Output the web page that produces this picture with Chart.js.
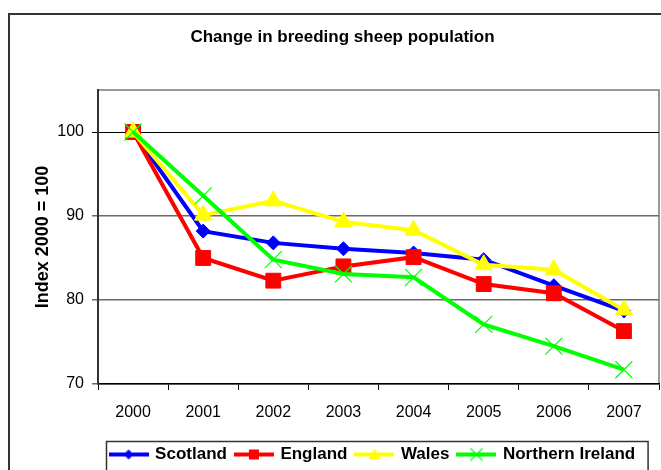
<!DOCTYPE html>
<html><head><meta charset="utf-8">
<script src="https://cdn.jsdelivr.net/npm/chart.js@4/dist/chart.umd.min.js"></script>
<style>html,body{margin:0;padding:0;background:#fff;overflow:hidden}canvas{display:block}</style>
</head><body>
<canvas id="c" width="661" height="470"></canvas>
<script>
const chartTitle = 'Change in breeding sheep population';
const yTitle = 'Index 2000 = 100';
const years = ['2000', '2001', '2002', '2003', '2004', '2005', '2006', '2007'];
const seriesNames = ['Scotland', 'England', 'Wales', 'Northern Ireland'];
const scotland = [100, 88.2, 86.8, 86.1, 85.6, 84.8, 81.7, 78.7];
const england = [100, 85.0, 82.3, 84.0, 85.1, 81.9, 80.8, 76.3];
const wales = [100, 90.1, 91.8, 89.3, 88.3, 84.2, 83.6, 78.8];
const northernIreland = [100, 92.4, 84.8, 83.1, 82.7, 77.1, 74.5, 71.7];
const yTicks = [70, 80, 90, 100];
const yMin = 70, yMax = 105;

const FONT = 'Liberation Sans';
const colors = ['#0000FF', '#FF0000', '#FFFF00', '#00FF00'];
const styles = ['rectRot', 'rect', 'triangle', 'crossRot'];
const radii = [7, 10.5, 10, 12];
const PLOT_RIGHT = 659;

function makeIcon(color, style) {
  const c = document.createElement('canvas');
  c.width = 40; c.height = 16;
  const x = c.getContext('2d');
  x.strokeStyle = color; x.fillStyle = color;
  x.lineWidth = 4;
  x.beginPath(); x.moveTo(0, 8); x.lineTo(40, 8); x.stroke();
  const cx = 20, cy = 8;
  x.beginPath();
  if (style === 'rectRot') {
    x.moveTo(cx, cy - 5); x.lineTo(cx + 5, cy); x.lineTo(cx, cy + 5); x.lineTo(cx - 5, cy); x.closePath(); x.fill();
  } else if (style === 'rect') {
    x.fillRect(cx - 5, cy - 5, 10, 10);
  } else if (style === 'triangle') {
    x.moveTo(cx, cy - 6); x.lineTo(cx + 6, cy + 5); x.lineTo(cx - 6, cy + 5); x.closePath(); x.fill();
  } else {
    x.lineWidth = 1.3;
    x.moveTo(cx - 6, cy - 6); x.lineTo(cx + 6, cy + 6); x.moveTo(cx + 6, cy - 6); x.lineTo(cx - 6, cy + 6); x.stroke();
  }
  return c;
}
const icons = colors.map((c, i) => makeIcon(c, styles[i]));

const values = [scotland, england, wales, northernIreland];
const datasets = values.map((v, i) => ({
  label: seriesNames[i],
  data: v,
  borderColor: colors[i],
  backgroundColor: colors[i],
  borderWidth: 4,
  tension: 0,
  pointStyle: styles[i],
  pointRadius: radii[i],
  pointBackgroundColor: colors[i],
  pointBorderColor: colors[i],
  pointBorderWidth: i === 3 ? 1.2 : 1,
  order: 4 - i
}));

const framePlugin = {
  id: 'frame',
  afterLayout(chart) {
    const ca = chart.chartArea;
    const xs = chart.scales.x;
    ca.right = PLOT_RIGHT;
    ca.width = ca.right - ca.left;
    xs.right = PLOT_RIGHT;
    xs.width = xs.right - xs.left;
    xs.configure();
  },
  beforeDraw(chart) {
    const ctx = chart.ctx;
    ctx.save();
    ctx.fillStyle = '#fff';
    ctx.fillRect(0, 0, chart.width, chart.height);
    ctx.strokeStyle = '#333'; ctx.lineWidth = 2;
    ctx.strokeRect(9, 14, 700, 500);
    const a = chart.chartArea;
    ctx.strokeStyle = '#999'; ctx.lineWidth = 2;
    ctx.beginPath(); ctx.moveTo(a.left, a.top); ctx.lineTo(a.right, a.top); ctx.lineTo(a.right, a.bottom); ctx.stroke();
    const lg = chart.legend;
    if (lg && lg.legendHitBoxes && lg.legendHitBoxes.length) {
      const hb = lg.legendHitBoxes;
      const l = hb[0].left - 5;
      const last = hb[hb.length - 1];
      const r = last.left + last.width + 12;
      ctx.strokeStyle = '#333'; ctx.lineWidth = 1.5;
      ctx.strokeRect(Math.round(l) + 0.5, Math.round(lg.top + 4) + 0.5, r - l, 60);
    }
    ctx.restore();
  }
};

new Chart(document.getElementById('c'), {
  type: 'line',
  data: { labels: years, datasets },
  plugins: [framePlugin],
  options: {
    responsive: false,
    animation: false,
    devicePixelRatio: 1,
    layout: { padding: { left: 26, right: 2, top: 0, bottom: -3 } },
    plugins: {
      tooltip: { enabled: false },
      title: {
        display: true,
        text: chartTitle,
        color: '#000',
        font: { family: FONT, size: 17, weight: 'bold' },
        padding: { top: 27, bottom: 42.6 }
      },
      legend: {
        position: 'bottom',
        fullSize: false,
        labels: {
          usePointStyle: true,
          pointStyleWidth: 36,
          padding: 9,
          color: '#000',
          font: { family: FONT, size: 17, weight: 'bold' },
          generateLabels: (chart) => chart.data.datasets.map((ds, i) => ({
            text: ds.label,
            pointStyle: icons[i],
            fillStyle: ds.borderColor,
            strokeStyle: ds.borderColor,
            lineWidth: 0,
            hidden: false,
            datasetIndex: i,
            fontColor: '#000'
          }))
        }
      }
    },
    scales: {
      x: {
        offset: true,
        grid: { display: true, drawOnChartArea: false, offset: true, tickLength: 6, color: '#000', lineWidth: 1 },
        border: { display: true, color: '#000', width: 1.5 },
        ticks: { color: '#000', font: { family: FONT, size: 16 }, padding: 13, maxRotation: 0, autoSkip: false },
        afterFit: (s) => { s.height = 53; s.paddingLeft = 0; s.paddingRight = 0; }
      },
      y: {
        min: yMin,
        max: yMax,
        afterBuildTicks: (s) => { s.ticks = yTicks.map(v => ({ value: v })); },
        ticks: { color: '#000', font: { family: FONT, size: 16 }, padding: 8 },
        grid: {
          color: (c) => (c.tick && c.tick.value === 100 ? '#000' : '#6a6a6a'),
          lineWidth: (c) => (c.tick && c.tick.value === 100 ? 1 : 1.5),
          tickLength: 6
        },
        border: { color: '#333', width: 2 },
        title: {
          display: true,
          text: yTitle,
          color: '#000',
          font: { family: FONT, size: 18, weight: 'bold' },
          padding: { top: 6, bottom: 0 }
        },
        afterFit: (s) => { s.width = 72; }
      }
    }
  }
});
</script>
</body></html>
